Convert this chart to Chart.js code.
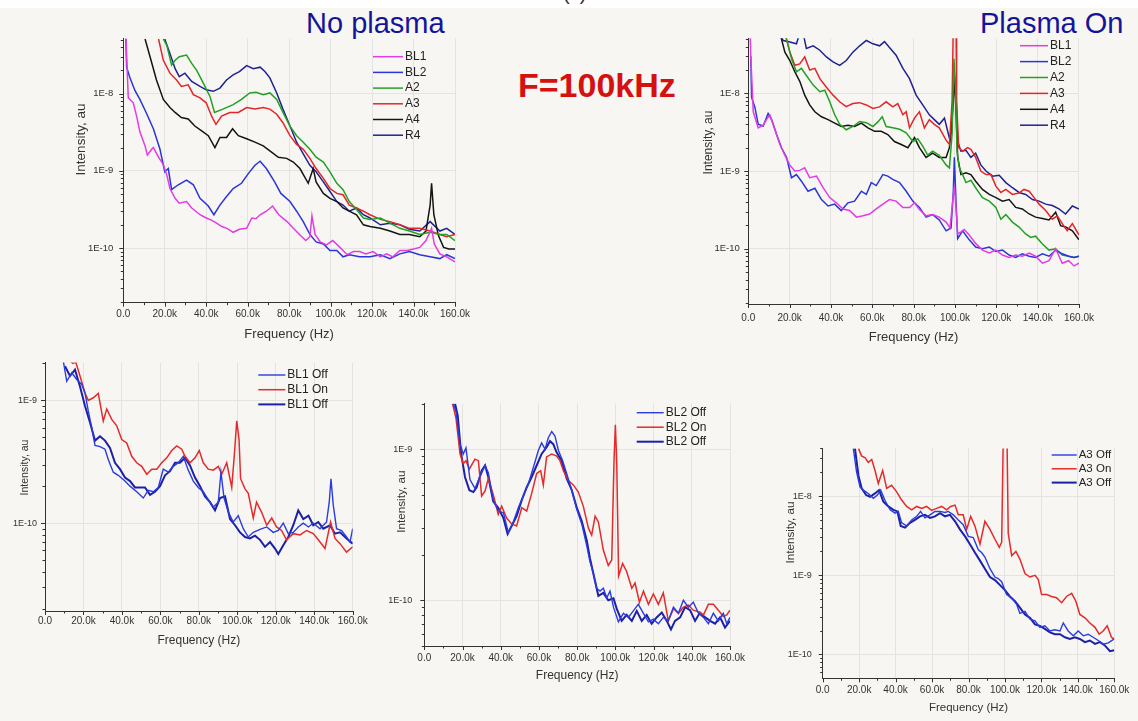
<!DOCTYPE html>
<html>
<head>
<meta charset="utf-8">
<script src="https://cdn.jsdelivr.net/npm/chart.js@4/dist/chart.umd.min.js"></script>
<style>
    body { margin: 0; width: 1138px; height: 721px; background: #f7f6f2; position: relative; overflow: hidden;
           font-family: Arial, "Liberation Sans", sans-serif; }
    canvas, .lbl { position: absolute; }
    .strip { position: absolute; left: 0; top: 0; width: 1138px; height: 8px; background: #fff; }
    .lbl { white-space: nowrap; }
</style>
</head>
<body>
<div class="strip"></div>
<div class="lbl" style="left:563px;top:-17px;font-size:20px;line-height:20px;color:#333">(c)</div>
<div class="lbl" style="left:306px;top:9px;font-size:29px;line-height:29px;color:#14149a">No plasma</div>
<div class="lbl" style="left:980px;top:9px;font-size:29px;line-height:29px;color:#14149a">Plasma On</div>
<div class="lbl" style="left:518px;top:68px;font-size:34px;line-height:34px;font-weight:bold;color:#d41010">F=100kHz</div>
<script>
// ==================== Data: [frequency kHz, intensity au] ====================

// --- No plasma ---
const noBL1 = [[1.0,8e-8],[1.3,5.1e-8],[2.4,8.8e-9],[4.8,7.6e-9],[6.5,5.0e-9],[8,3.2e-9],[10.5,2.1e-9],[11.6,1.6e-9],[13.7,1.9e-9],[14.5,2.0e-9],[17,1.5e-9],[19.3,1.2e-9],[21,8.8e-10],[22.5,5.9e-10],[25,4.4e-10],[27,3.8e-10],[30.5,4.0e-10],[33,3.3e-10],[37,2.7e-10],[40,2.45e-10],[42.5,2.3e-10],[45,2.1e-10],[47.5,1.9e-10],[50,1.8e-10],[53,1.6e-10],[56,1.75e-10],[59.5,1.8e-10],[62,2.45e-10],[64,2.4e-10],[66,2.7e-10],[69,3.0e-10],[72,3.5e-10],[75,2.7e-10],[79,2.2e-10],[82,1.8e-10],[85,1.5e-10],[88,1.25e-10],[90,1.4e-10],[91,2.6e-10],[92.5,1.5e-10],[95,1.2e-10],[98,1.1e-10],[101,1.25e-10],[104.5,1.02e-10],[108,8.2e-11],[111,9e-11],[114,9e-11],[117,8.4e-11],[120.5,9e-11],[124,7.7e-11],[127,8.4e-11],[130,7.7e-11],[133.4,9.3e-11],[137,9.3e-11],[140,9.7e-11],[143,1.02e-10],[146,1.25e-10],[148.7,1.8e-10],[150,1.13e-10],[152.7,8.4e-11],[156,7.7e-11],[160,6.6e-11]];
const noBL2 = [[1.2,6e-8],[1.6,2.2e-8],[3.2,1.6e-8],[5.6,1.1e-8],[8,8.4e-9],[11,5.7e-9],[14.5,3.5e-9],[17.7,1.9e-9],[20,9.7e-10],[21.7,1.07e-9],[23.3,5.7e-10],[26.5,6.6e-10],[30.5,7.6e-10],[33.8,6.6e-10],[37,4.4e-10],[41,3.5e-10],[43.7,2.7e-10],[46.6,3.6e-10],[49.8,4.65e-10],[53,5.9e-10],[57,6.9e-10],[60.3,9.2e-10],[63.5,1.18e-9],[66,1.33e-9],[69,1.07e-9],[73,7.2e-10],[76,5.1e-10],[80.4,4.0e-10],[83.6,3.0e-10],[86.8,2.2e-10],[90,1.5e-10],[93,1.2e-10],[96.5,1.13e-10],[99.7,9.3e-11],[103,9.3e-11],[106,7.7e-11],[109,8.2e-11],[114,7.7e-11],[119,7.7e-11],[124,8.2e-11],[128.6,7.3e-11],[133.4,8.4e-11],[138,9e-11],[143,8.2e-11],[148,7.7e-11],[152.7,7.3e-11],[156,8.2e-11],[160,7.3e-11]];
const noA2 = [[19.3,5.1e-8],[21,4.2e-8],[23.3,2.35e-8],[25,2.7e-8],[27,3.0e-8],[30.5,3.15e-8],[33,2.46e-8],[35.4,2.0e-8],[38.6,1.37e-8],[41.8,9.2e-9],[44,5.7e-9],[48,6.3e-9],[53,7.2e-9],[57,8.4e-9],[61,1.02e-8],[64,1.04e-8],[67.5,9.7e-9],[70.7,1.02e-8],[74,8.4e-9],[77,5.7e-9],[80.4,3.8e-9],[83.6,2.85e-9],[86.8,2.35e-9],[90,1.9e-9],[93,1.5e-9],[96.5,1.3e-9],[99.7,9.7e-10],[103,6.9e-10],[106,5.7e-10],[109,4.0e-10],[112.5,3.15e-10],[115.8,2.45e-10],[119,2.35e-10],[124,2.45e-10],[128.6,2.1e-10],[133.4,1.8e-10],[138,1.66e-10],[143,1.5e-10],[148,1.6e-10],[152.7,1.5e-10],[156,1.5e-10],[160,1.25e-10]];
const noA3 = [[17,5.1e-8],[19.3,2.7e-8],[22.5,1.84e-8],[25.7,1.5e-8],[28,1.24e-8],[31.3,1.3e-8],[33.8,9.7e-9],[37,8.8e-9],[40,7.6e-9],[42.6,5.1e-9],[44.7,4.0e-9],[47.4,5.1e-9],[51.4,5.7e-9],[55.5,5.7e-9],[59.5,6.6e-9],[63.5,6.3e-9],[67.5,6.6e-9],[70.7,6.3e-9],[74,5.4e-9],[77,4.2e-9],[80.4,2.85e-9],[83.6,2.2e-9],[86.8,1.9e-9],[90,1.45e-9],[93,1.07e-9],[96.5,8.0e-10],[99.7,5.9e-10],[103,5.1e-10],[106,4.9e-10],[109,3.6e-10],[112.5,3.3e-10],[115.8,3.0e-10],[119,2.7e-10],[124,2.35e-10],[128.6,2.2e-10],[133.4,2.0e-10],[138,1.8e-10],[143,1.8e-10],[148,1.66e-10],[152.7,1.5e-10],[156,1.4e-10],[160,1.5e-10]];
const noA4 = [[10.5,5.1e-8],[12.9,3.0e-8],[16,1.5e-8],[19.3,8.4e-9],[22.5,6.6e-9],[25,5.7e-9],[28,4.9e-9],[31.3,4.7e-9],[34.5,3.8e-9],[37.8,3.3e-9],[41,2.85e-9],[44.2,2.0e-9],[46.6,2.7e-9],[49.8,2.7e-9],[52.7,3.5e-9],[55.5,2.85e-9],[59.5,2.6e-9],[63.5,2.35e-9],[67.5,2.1e-9],[71.5,1.75e-9],[74.8,1.5e-9],[78.8,1.45e-9],[82,1.3e-9],[85.2,1.07e-9],[89.2,6.9e-10],[91.6,1.07e-9],[93,7.2e-10],[96.5,5.1e-10],[99.7,4.4e-10],[103,4.0e-10],[106,3.3e-10],[109,3.0e-10],[112.5,2.7e-10],[115.8,2.0e-10],[119,1.9e-10],[124,1.8e-10],[128.6,1.66e-10],[133.4,1.5e-10],[138,1.5e-10],[143,1.4e-10],[146,1.66e-10],[148,3.6e-10],[148.7,6.9e-10],[149.8,2.7e-10],[152,1.45e-10],[154.5,1.02e-10],[157,9.7e-11],[160,9.7e-11]];
const noR4 = [[20,5.1e-8],[22.5,3.3e-8],[25,2.1e-8],[27,1.66e-8],[29.7,1.84e-8],[33,1.44e-8],[37,1.24e-8],[40,1.12e-8],[43.4,1.07e-8],[46.6,1.18e-8],[49.8,1.5e-8],[53,1.75e-8],[56,1.93e-8],[59.5,2.3e-8],[62.7,2.1e-8],[66,2.2e-8],[68.3,1.93e-8],[70.7,1.6e-8],[74,1.02e-8],[77,6.3e-9],[80.4,3.8e-9],[83.6,2.35e-9],[86.8,1.66e-9],[90,1.18e-9],[93,9.7e-10],[96.5,7.2e-10],[99.7,5.4e-10],[103,4.0e-10],[106,3.6e-10],[109,3.0e-10],[112.5,3.3e-10],[115.8,2.7e-10],[119,2.45e-10],[124,2.0e-10],[128.6,2.1e-10],[133.4,2.0e-10],[138,1.75e-10],[143,1.66e-10],[148,2.2e-10],[152.7,1.66e-10],[156,1.8e-10],[160,1.5e-10]];

// --- Plasma On ---
const onBL1 = [[0.8,8e-8],[1.2,3e-8],[2.4,5.8e-9],[4.8,3.6e-9],[7.2,3.9e-9],[8.8,4.6e-9],[10.4,5.3e-9],[12.9,3.4e-9],[15.3,2.2e-9],[17.7,1.6e-9],[20,1.2e-9],[22.5,1.0e-9],[24.9,1.02e-9],[27.3,1.1e-9],[29.7,8.2e-10],[33,8.6e-10],[36.2,6.1e-10],[39.4,4.55e-10],[42.6,3.9e-10],[45.8,3.25e-10],[49,3.1e-10],[52.3,2.55e-10],[55.5,2.65e-10],[58.7,2.8e-10],[61.9,3.25e-10],[65.1,3.75e-10],[68.3,4.3e-10],[71.5,4.1e-10],[74.8,3.4e-10],[78,3.4e-10],[80.4,3.9e-10],[82.8,3.2e-10],[86,2.65e-10],[89.2,2.75e-10],[92.4,2.55e-10],[95.7,2.2e-10],[97.6,1.85e-10],[98.9,4.1e-10],[99.7,6.4e-10],[100.5,3.4e-10],[101.3,1.55e-10],[102.9,1.65e-10],[104.5,1.77e-10],[106.9,1.5e-10],[110,1.17e-10],[113.3,9.6e-11],[116.6,8.8e-11],[119.8,9.6e-11],[123,8.3e-11],[126.2,7.7e-11],[129.4,8.3e-11],[132.6,8.0e-11],[135.9,8.8e-11],[139,8.0e-11],[142.3,6.5e-11],[145.5,7.0e-11],[148.7,1.0e-10],[151.9,6.5e-11],[155,7.0e-11],[157.6,6.0e-11],[160,6.5e-11]];
const onBL2 = [[1.2,3e-8],[1.6,8.9e-9],[3.2,6.6e-9],[4.8,4.0e-9],[7.2,3.8e-9],[9.6,5.5e-9],[11.3,4.6e-9],[13.7,2.95e-9],[16.1,1.98e-9],[18.5,1.5e-9],[20.9,8.2e-10],[23.3,9.0e-10],[25.7,7.4e-10],[28.9,5.5e-10],[32.2,6.0e-10],[35.4,4.3e-10],[38.6,3.55e-10],[41.8,3.75e-10],[45,3.1e-10],[48.2,3.9e-10],[51.4,4.1e-10],[54.7,5.5e-10],[57.1,5.0e-10],[59.5,7.1e-10],[61.9,6.5e-10],[65.1,9.0e-10],[67.5,8.6e-10],[69.9,7.8e-10],[73.2,7.1e-10],[76.4,5.5e-10],[79.6,4.1e-10],[82.8,3.4e-10],[86,2.55e-10],[89.2,2.75e-10],[92.4,2.35e-10],[95.7,1.7e-10],[98.1,1.85e-10],[99.2,5.5e-10],[99.7,1.5e-9],[100.5,4.0e-10],[101.3,1.35e-10],[103.7,1.7e-10],[106.9,1.3e-10],[110,1.05e-10],[113.3,1.0e-10],[116.6,1.05e-10],[119.8,9.2e-11],[123,9.6e-11],[126.2,8.3e-11],[129.4,7.7e-11],[132.6,8.6e-11],[135.9,8.0e-11],[139,7.7e-11],[142.3,8.6e-11],[145.5,8.0e-11],[148.7,9.6e-11],[151.9,8.6e-11],[155,8.0e-11],[157.6,7.7e-11],[160,8.0e-11]];
const onA2 = [[17.5,6e-8],[18.5,5e-8],[20.9,2.8e-8],[23.3,1.9e-8],[25.7,2.1e-8],[28.1,1.7e-8],[31.4,1.28e-8],[34.6,1.05e-8],[37,1.1e-8],[39.4,7.8e-9],[41.8,5.3e-9],[44.2,4.0e-9],[47.4,3.4e-9],[50.6,3.75e-9],[53.9,4.35e-9],[57.1,4.2e-9],[60.3,3.75e-9],[62.7,4.3e-9],[64.8,5.0e-9],[66.7,3.75e-9],[69.9,3.6e-9],[73.2,3.45e-9],[76.4,3.1e-9],[79.6,2.4e-9],[82,2.6e-9],[84.4,2.1e-9],[86.8,1.6e-9],[89.2,1.8e-9],[92.4,1.6e-9],[95.7,1.2e-9],[97.3,1.1e-9],[98.6,2.95e-9],[99.5,2.8e-8],[100.2,1.2e-8],[101,1.8e-9],[102.1,1.1e-9],[103.7,9.0e-10],[105.3,7.1e-10],[107.7,7.6e-10],[110,6.1e-10],[113.3,4.55e-10],[116.6,4.1e-10],[119.8,3.4e-10],[122.2,2.4e-10],[124.6,2.75e-10],[127.8,2.2e-10],[131,1.9e-10],[134.2,1.55e-10],[136.7,1.4e-10],[139,1.45e-10],[142.3,1.15e-10],[145.5,9.6e-11],[148.7,1.0e-10],[151.9,8.3e-11],[155,8.0e-11],[157.6,7.7e-11],[160,8.0e-11]];
const onA3 = [[17.7,6e-8],[20.1,3.4e-8],[22.5,2.3e-8],[24.9,2.4e-8],[27.3,2.95e-8],[29.7,2.0e-8],[32.2,2.1e-8],[34.6,1.55e-8],[37.8,1.2e-8],[41,9.5e-9],[44.2,7.8e-9],[47.4,6.75e-9],[50.6,7.4e-9],[53.9,7.6e-9],[57.1,7.1e-9],[60.3,6.4e-9],[63.5,6.7e-9],[66.7,7.8e-9],[69.9,6.7e-9],[72.3,7.4e-9],[74.8,5.3e-9],[76.4,5.8e-9],[78,3.6e-9],[80.4,4.8e-9],[82.8,5.8e-9],[85.2,3.6e-9],[87.6,4.6e-9],[90,4.0e-9],[92.4,3.6e-9],[95.7,2.5e-9],[97.3,2.2e-9],[98.6,7.8e-9],[99.2,8e-8],[100.5,8e-8],[100.8,7.8e-9],[101.8,2.0e-9],[103.7,1.8e-9],[106.1,2.0e-9],[107.7,1.9e-9],[110,1.5e-9],[112.5,1.0e-9],[115,9.0e-10],[117.4,9.0e-10],[119.8,6.4e-10],[122.2,5.3e-10],[124.6,5.8e-10],[127.8,5.0e-10],[131,5.2e-10],[133.4,5.8e-10],[135.9,5.5e-10],[138.3,4.55e-10],[140.7,3.75e-10],[143.9,3.1e-10],[147.1,2.4e-10],[149.5,2.65e-10],[151.9,2.1e-10],[154.3,1.7e-10],[156.8,2.1e-10],[160,1.5e-10]];
const onA4 = [[15.3,6e-8],[17.7,3.4e-8],[20.1,2.65e-8],[22.5,1.9e-8],[24.9,1.43e-8],[27.3,9.5e-9],[29.7,7.1e-9],[32.2,5.8e-9],[35.4,5.0e-9],[38.6,4.6e-9],[41.8,4.15e-9],[45,3.75e-9],[48.2,3.9e-9],[51.4,3.75e-9],[54.7,4.15e-9],[57.9,3.6e-9],[61.1,3.25e-9],[64.3,3.25e-9],[67.5,2.95e-9],[70.7,2.4e-9],[74,2.2e-9],[77.2,2.0e-9],[80.4,2.7e-9],[82.8,2.0e-9],[86,1.5e-9],[89.2,1.7e-9],[92.4,1.5e-9],[95.7,1.5e-9],[97.3,2.0e-9],[98.4,3.6e-9],[99.7,1.55e-8],[100.5,6e-9],[101.3,1.5e-9],[102.9,9.0e-10],[105.3,9.5e-10],[107.7,9.0e-10],[110,7.4e-10],[113.3,5.8e-10],[116.6,5.0e-10],[119.8,4.55e-10],[123,4.1e-10],[126.2,4.3e-10],[129.4,3.4e-10],[132.6,3.25e-10],[135.9,2.8e-10],[139,2.55e-10],[142.3,2.45e-10],[145.5,2.35e-10],[148.7,2.95e-10],[151.1,1.98e-10],[153.5,1.9e-10],[156.8,1.7e-10],[160,1.3e-10]];
const onR4 = [[15,6e-8],[16.9,4.8e-8],[20.1,4.6e-8],[23.3,4.35e-8],[24.9,6e-8],[26.5,6e-8],[28.1,3.8e-8],[31.4,4.1e-8],[34.6,3.6e-8],[37.8,2.95e-8],[41,2.55e-8],[44.2,2.3e-8],[47.4,2.65e-8],[50.6,3.4e-8],[53.9,4.1e-8],[57.1,4.8e-8],[60.3,4.35e-8],[63.5,4.1e-8],[65.9,4.65e-8],[68.3,3.9e-8],[71.5,3.1e-8],[74.8,2.1e-8],[78,1.55e-8],[81.2,9.5e-9],[84.4,7.1e-9],[87.6,5.3e-9],[90,4.6e-9],[92.4,4.0e-9],[94.9,4.8e-9],[97.3,2.65e-9],[98.4,3.2e-9],[99.5,2.1e-8],[100.5,1.0e-8],[101.3,2.4e-9],[102.9,1.8e-9],[105.3,1.85e-9],[107.7,1.5e-9],[110,1.7e-9],[112.5,1.2e-9],[115,1.0e-9],[118.2,8.6e-10],[121.4,8.8e-10],[124.6,7.1e-10],[127.8,6.1e-10],[131,5.3e-10],[134.2,5.0e-10],[137.5,4.3e-10],[140.7,4.1e-10],[143.9,3.75e-10],[147.1,3.6e-10],[150.3,3.25e-10],[153.5,2.8e-10],[156.8,3.55e-10],[160,3.25e-10]];

// --- BL1 off / on / off ---
const bl1Off1 = [[9.5,2.1e-9],[11.3,1.43e-9],[13.9,1.68e-9],[16.5,1.48e-9],[19.1,1.35e-9],[20.8,1.15e-9],[22.5,8.2e-10],[24.3,6.0e-10],[26,4.3e-10],[28.6,4.2e-10],[31.2,4.0e-10],[32.9,3.3e-10],[35.5,2.6e-10],[38.1,2.45e-10],[41.6,2.2e-10],[44.2,2.0e-10],[47.7,1.8e-10],[51.1,1.6e-10],[53.7,1.85e-10],[56.3,1.8e-10],[58.9,1.95e-10],[61.5,2.75e-10],[64.1,2.6e-10],[66.7,2.9e-10],[69.3,3.1e-10],[71.9,3.5e-10],[74.5,2.7e-10],[77.1,2.2e-10],[79.7,1.95e-10],[82.3,1.8e-10],[84.9,1.55e-10],[87.5,1.35e-10],[90.1,1.48e-10],[91.5,2.6e-10],[93.1,1.6e-10],[95.3,1.23e-10],[97.9,1.02e-10],[100.5,1.15e-10],[103.1,9.0e-11],[105.7,7.7e-11],[108.3,8.4e-11],[111.8,8.9e-11],[115.3,9.3e-11],[118.7,8.4e-11],[121.3,8.7e-11],[123.9,1.0e-10],[126.5,8.2e-11],[129.1,8.4e-11],[131.7,9.3e-11],[134.3,1.0e-10],[137,9.3e-11],[139.5,1.0e-10],[143,9.0e-11],[146.4,1.02e-10],[147.8,1.48e-10],[148.7,2.3e-10],[149.9,1.4e-10],[151.6,9.0e-11],[154.2,8.7e-11],[156.8,7.7e-11],[158.6,7.0e-11],[160,9.0e-11]];
const bl1On = [[13,2.1e-9],[14.5,2.0e-9],[16,2.05e-9],[18.2,1.58e-9],[20.8,1.15e-9],[22.5,1.0e-9],[25.1,1.05e-9],[27.7,1.14e-9],[30.3,6.8e-10],[32.1,8.5e-10],[34.7,7.0e-10],[37.3,6.2e-10],[39.9,4.8e-10],[42.5,4.5e-10],[45.1,3.5e-10],[47.7,3.1e-10],[50.3,2.9e-10],[52.9,2.5e-10],[55.5,2.75e-10],[58.1,2.75e-10],[60.7,3.1e-10],[63.3,3.4e-10],[65.9,3.9e-10],[68.5,4.25e-10],[71.1,4.0e-10],[72.8,3.5e-10],[75.4,3.1e-10],[78,3.4e-10],[80.2,3.9e-10],[82.3,3.1e-10],[84.9,2.75e-10],[87.5,2.7e-10],[90.1,2.9e-10],[91.9,2.5e-10],[94.5,3.1e-10],[97.1,1.95e-10],[98.4,3.5e-10],[99.7,6.8e-10],[100.9,4.8e-10],[101.7,2.3e-10],[104,1.9e-10],[105.7,1.75e-10],[108.3,1.1e-10],[110,1.48e-10],[112.6,1.23e-10],[115.3,9.6e-11],[117.9,1.1e-10],[120.4,9.3e-11],[123,8.7e-11],[125.6,7.3e-11],[129.1,8.2e-11],[132.6,8.0e-11],[136,8.7e-11],[139.5,8.2e-11],[142.1,7.3e-11],[145.6,6.2e-11],[148.5,1.02e-10],[150.8,7.5e-11],[153.4,6.8e-11],[156.8,5.8e-11],[160,6.4e-11]];
const bl1Off2 = [[10.4,1.9e-9],[13,1.58e-9],[15.6,1.78e-9],[18.2,1.3e-9],[20.8,9.0e-10],[23.4,6.6e-10],[26,4.7e-10],[28.6,5.1e-10],[31.2,4.7e-10],[33.8,4.1e-10],[36.4,3.1e-10],[39,2.75e-10],[41.6,2.35e-10],[44.2,2.2e-10],[46.8,1.95e-10],[49.4,1.95e-10],[52,1.95e-10],[54.6,1.7e-10],[57.2,1.8e-10],[59.8,2.0e-10],[62.4,2.45e-10],[65,2.65e-10],[67.6,3.1e-10],[70.2,3.1e-10],[72.8,3.4e-10],[75.4,2.95e-10],[78,2.35e-10],[80.6,2.0e-10],[83.2,1.65e-10],[85.8,1.48e-10],[88.4,1.27e-10],[91,1.6e-10],[93.6,1.65e-10],[96.2,1.08e-10],[98.8,9.6e-11],[101.4,8.4e-11],[104,7.7e-11],[106.6,7.5e-11],[109.2,7.9e-11],[111.8,7.3e-11],[114.4,6.4e-11],[117,7.0e-11],[119.6,6.2e-11],[121.3,5.6e-11],[123.9,6.6e-11],[126.5,7.7e-11],[129.1,9.6e-11],[131.7,1.27e-10],[134.3,1.08e-10],[137,1.15e-10],[139.5,9.6e-11],[142.1,1.02e-10],[144.7,9.0e-11],[148.2,9.6e-11],[150.8,8.2e-11],[153.4,8.4e-11],[156.8,7.5e-11],[160,6.8e-11]];

// --- BL2 off / on / off ---
const bl2Off1 = [[15.2,2.0e-9],[16.6,1.77e-9],[18.7,1.08e-9],[20.4,9.3e-10],[21.8,1.02e-9],[23.9,6.3e-10],[26.5,5.5e-10],[29.1,6.55e-10],[31.8,7.8e-10],[33.5,7.0e-10],[36.1,4.6e-10],[38.7,3.9e-10],[41.4,3.8e-10],[44,2.8e-10],[46.6,3.3e-10],[49.2,4.1e-10],[51.8,4.9e-10],[54.5,5.9e-10],[57.1,7.6e-10],[59.7,9.8e-10],[61.4,1.1e-9],[63.2,1.0e-9],[64.9,1.19e-9],[66.7,1.31e-9],[68.4,1.22e-9],[70.2,9.8e-10],[72.4,8.4e-10],[74.5,6.9e-10],[77.1,5.4e-10],[79.8,4.0e-10],[82.4,3.2e-10],[85,2.3e-10],[86.7,1.8e-10],[88.5,1.5e-10],[90.2,1.2e-10],[92,1.15e-10],[93.7,1.2e-10],[95.5,1.04e-10],[97.2,1.15e-10],[99,9.0e-11],[101.6,7.2e-11],[104.2,8.2e-11],[106.8,7.7e-11],[109.4,8.5e-11],[112,9.4e-11],[114.7,8.2e-11],[117.3,7.2e-11],[119.9,7.5e-11],[122.5,7.0e-11],[125.1,7.7e-11],[127.7,7.3e-11],[130.4,9.0e-11],[133,8.2e-11],[135.6,1.0e-10],[138.2,9.0e-11],[140.8,9.7e-11],[143.5,8.2e-11],[146.1,7.7e-11],[148.7,7.0e-11],[151.3,8.2e-11],[153.9,7.3e-11],[156.5,8.2e-11],[158.3,7.0e-11],[160,7.7e-11]];
const bl2On = [[14.8,2.0e-9],[16.6,1.6e-9],[18.7,9.3e-10],[20.4,8.0e-10],[21.8,8.4e-10],[23.6,7.4e-10],[26.5,8.6e-10],[28.3,8.4e-10],[30,4.9e-10],[31.8,5.3e-10],[33.5,6.4e-10],[36.1,5.0e-10],[38.7,3.7e-10],[40.5,4.2e-10],[43.1,3.5e-10],[45.7,3.2e-10],[48.3,3.1e-10],[51,4.1e-10],[53.6,3.9e-10],[56.2,5.1e-10],[58.8,6.9e-10],[60.9,7.2e-10],[62.3,5.8e-10],[64,8.9e-10],[66.7,9.3e-10],[69.3,9.0e-10],[71,8.4e-10],[72.8,7.2e-10],[75.4,6.2e-10],[78,5.8e-10],[80.6,5.2e-10],[83.2,4.2e-10],[85.9,3.0e-10],[87.6,2.7e-10],[89.4,3.6e-10],[91.1,3.3e-10],[93.7,2.15e-10],[96.3,1.7e-10],[98.1,1.85e-10],[99.3,8.4e-10],[100,1.45e-9],[100.7,8.4e-10],[101.7,1.45e-10],[103.8,1.75e-10],[105.9,1.55e-10],[108.6,1.2e-10],[110.3,1.3e-10],[112.6,9.7e-11],[114.7,1.15e-10],[117.3,9.4e-11],[119.9,1.1e-10],[122.5,9.4e-11],[125.1,1.12e-10],[127.7,7.3e-11],[130.4,8.8e-11],[133,8.2e-11],[135.6,9.0e-11],[138.2,9.3e-11],[140.8,8.6e-11],[143.5,8.4e-11],[146.1,8.0e-11],[148.7,9.4e-11],[151.3,9.4e-11],[153.9,8.6e-11],[156.5,7.8e-11],[158.3,8.0e-11],[160,8.6e-11]];
const bl2Off2 = [[16.1,2.0e-9],[17.5,1.67e-9],[19.2,9.5e-10],[21.3,6.55e-10],[23.6,5.35e-10],[25.7,5.2e-10],[27.4,5.6e-10],[30,7.2e-10],[31.8,7.8e-10],[33.5,6.55e-10],[36.1,4.5e-10],[38.7,4.1e-10],[41.4,3.5e-10],[43.6,2.75e-10],[45.7,3.1e-10],[48.3,3.6e-10],[51,4.6e-10],[53.6,5.6e-10],[56.2,6.55e-10],[58.8,7.8e-10],[61.4,9.3e-10],[64,1.03e-9],[65.8,1.13e-9],[67.5,1.08e-9],[69.3,9.5e-10],[71.9,8.4e-10],[74.5,6.4e-10],[77.1,5.4e-10],[79.8,4.1e-10],[82.4,3.35e-10],[85,2.5e-10],[86.7,1.9e-10],[88.5,1.5e-10],[91.1,1.07e-10],[93.7,1.12e-10],[96.3,1.0e-10],[99,1.03e-10],[100.7,8.8e-11],[103.3,7.3e-11],[105.9,8.0e-11],[108.6,7.3e-11],[111.2,8.5e-11],[113.8,7.3e-11],[116.4,8.0e-11],[119,7.0e-11],[121.6,7.7e-11],[124.3,8.3e-11],[126.9,7.3e-11],[129.1,6.4e-11],[131.2,7.3e-11],[133.9,7.7e-11],[136.5,9.0e-11],[139.1,8.6e-11],[141.7,7.3e-11],[144.3,8.3e-11],[147,7.7e-11],[149.6,7.3e-11],[152.2,7.0e-11],[154.8,7.7e-11],[157.4,6.6e-11],[160,7.3e-11]];

// --- A3 off / on / off ---
const a3Off1 = [[16.8,4.0e-8],[18.6,2.0e-8],[20.5,1.3e-8],[22.3,1.19e-8],[25,1.08e-8],[27.8,9.4e-9],[30,1.03e-8],[31.8,1.19e-8],[34.2,8.8e-9],[37,6.7e-9],[39.7,6.1e-9],[41.5,6.4e-9],[43.3,4.6e-9],[46.1,4.2e-9],[48.8,5.0e-9],[51.6,5.55e-9],[53.7,6.4e-9],[56.1,5.3e-9],[58.9,5.8e-9],[61.6,6.4e-9],[64.4,6.4e-9],[67.1,6.2e-9],[68.9,6.4e-9],[71.7,5.8e-9],[74.4,5.0e-9],[77.1,4.35e-9],[79.9,3.1e-9],[82.6,3.0e-9],[85.4,2.1e-9],[87.2,1.94e-9],[89,1.7e-9],[91.8,1.21e-9],[94.5,9.5e-10],[96.3,9.1e-10],[98.2,8.3e-10],[100.9,5.7e-10],[103.7,5.2e-10],[106.4,4.3e-10],[108.2,3.3e-10],[111,3.5e-10],[113.7,2.8e-10],[116.5,2.65e-10],[119.2,2.2e-10],[121.9,2.3e-10],[124.7,1.98e-10],[127.4,2.05e-10],[130.2,1.98e-10],[132,2.5e-10],[134.7,1.98e-10],[137.5,1.72e-10],[140.2,1.98e-10],[143,1.72e-10],[145.7,1.8e-10],[148.4,1.65e-10],[151.2,1.5e-10],[153.9,1.35e-10],[156.7,1.4e-10],[160,1.57e-10]];
const a3On = [[19.6,4.0e-8],[21.4,3.2e-8],[23.2,3.07e-8],[25,2.66e-8],[26.9,2.9e-8],[28.7,2.1e-8],[30.5,1.44e-8],[32.9,2.1e-8],[35.1,1.25e-8],[37.8,1.37e-8],[40.6,1.13e-8],[43.3,8.9e-9],[46.1,7.4e-9],[48.8,6.7e-9],[51.6,7.4e-9],[54.3,7.0e-9],[57,7.4e-9],[59.8,6.6e-9],[62.5,7.0e-9],[65.3,7.4e-9],[68,6.7e-9],[70.2,7.4e-9],[72.6,7.7e-9],[74.4,5.8e-9],[77.1,5.8e-9],[79,3.8e-9],[81.2,5.55e-9],[83.5,4.2e-9],[86.3,2.47e-9],[89,4.8e-9],[91.8,3.8e-9],[94.5,2.85e-9],[96.9,2.25e-9],[98.2,2.6e-9],[99.1,6e-8],[101.1,6e-8],[101.8,3.4e-9],[103.7,1.77e-9],[106,2.0e-9],[108.2,1.6e-9],[111,1.05e-9],[113.7,9.5e-10],[116.5,1.0e-9],[118.3,8.8e-10],[120.1,5.7e-10],[122.9,5.7e-10],[125.6,5.4e-10],[128.3,5.2e-10],[131.1,4.5e-10],[133.8,5.4e-10],[136.6,5.9e-10],[138.9,4.7e-10],[141.1,3.2e-10],[143.9,2.9e-10],[146.6,2.5e-10],[149.4,2.2e-10],[151.7,1.8e-10],[153.9,1.98e-10],[156.1,2.3e-10],[158.5,1.64e-10],[160,1.57e-10]];
const a3Off2 = [[17.7,4.0e-8],[19.6,1.82e-8],[21.4,1.25e-8],[23.8,1.03e-8],[26,9.8e-9],[28.7,1.08e-8],[30.9,1.19e-8],[33.3,8.5e-9],[36,7.4e-9],[38.8,6.7e-9],[41,6.4e-9],[42.8,4.2e-9],[45.2,4.0e-9],[47.9,4.6e-9],[50.6,5.0e-9],[53.4,5.55e-9],[56.1,5.8e-9],[58.9,5.3e-9],[61.6,5.55e-9],[64.4,6.1e-9],[67.1,5.55e-9],[69.8,5.8e-9],[72.6,4.8e-9],[75.3,3.8e-9],[78.1,3.1e-9],[80.8,2.47e-9],[83.5,1.94e-9],[86.3,1.53e-9],[89,1.21e-9],[91.8,9.5e-10],[94.5,8.7e-10],[97.3,7.5e-10],[100,6.5e-10],[102.7,5.4e-10],[105.5,4.7e-10],[108.2,3.9e-10],[111,3.2e-10],[113.7,2.9e-10],[116.5,2.4e-10],[119.2,2.3e-10],[121.9,2.1e-10],[124.7,1.9e-10],[127.4,1.8e-10],[130.2,1.8e-10],[132.9,1.65e-10],[135.6,1.57e-10],[138.4,1.65e-10],[141.1,1.57e-10],[143.9,1.43e-10],[146.6,1.5e-10],[149.4,1.36e-10],[152.1,1.43e-10],[154.8,1.3e-10],[157.6,1.1e-10],[160,1.13e-10]];

// ==================== Styles ====================
const C_BL1 = '#e33ce3', C_BL2 = '#2a36d8', C_A2 = '#24a024', C_A3 = '#e3262a', C_A4 = '#141414', C_R4 = '#1e2390';
const C_OFF1 = '#2a3ce0', C_ON = '#e42a2a', C_OFF2 = '#1c20a6';

const FREQ_LABEL = v => v === 0 ? '0.0' : (v % 20 === 0 ? v.toFixed(1) + 'k' : '');
const isDecade = v => Math.abs(Math.log10(v) - Math.round(Math.log10(v))) < 1e-6;

const PANELS = [
    { left: 74, top: 23, w: 403, h: 319, padTop: 12, padRight: 22, yW: 49.3, xH: 39.3, yMin: 1.96e-11, yMax: 5.14e-8,
      xTickPad: 6, yTickPad: 10, yTick: 9.5, xTitle: 13,
      yTitle: { x: 81.7, y: 139.5, size: 13.5 },
      legend: { x: 373, y: 56.7, dy: 15.7, len: 30, size: 12 },
      series: [['BL1', noBL1, C_BL1, 1.5], ['BL2', noBL2, C_BL2, 1.5], ['A2', noA2, C_A2, 1.5],
               ['A3', noA3, C_A3, 1.5], ['A4', noA4, C_A4, 1.5], ['R4', noR4, C_R4, 1.5]] },
    { left: 700, top: 24, w: 402, h: 321, padTop: 12, padRight: 22, yW: 48.3, xH: 41, yMin: 1.94e-11, yMax: 5.14e-8,
      xTickPad: 8, yTickPad: 8.5, yTick: 9.5, xTitle: 13,
      yTitle: { x: 709, y: 142.5, size: 12 },
      legend: { x: 1020, y: 45.7, dy: 15.9, len: 28, size: 12 },
      series: [['BL1', onBL1, C_BL1, 1.5], ['BL2', onBL2, C_BL2, 1.5], ['A2', onA2, C_A2, 1.5],
               ['A3', onA3, C_A3, 1.5], ['A4', onA4, C_A4, 1.5], ['R4', onR4, C_R4, 1.5]] },
    { left: 0, top: 349, w: 375, h: 299, padTop: 12, padRight: 22.3, yW: 45, xH: 37, yMin: 1.92e-11, yMax: 2.04e-9,
      xTickPad: 4.7, yTickPad: 8, yTick: 9, xTitle: 12,
      yTitle: { x: 25, y: 467.5, size: 10.5 },
      legend: { x: 258.3, y: 375, dy: 14.7, len: 27, size: 12 },
      series: [['BL1 Off', bl1Off1, C_OFF1, 1.4], ['BL1 On', bl1On, C_ON, 1.5], ['BL1 Off', bl1Off2, C_OFF2, 2]] },
    { left: 379, top: 386, w: 373, h: 297, padTop: 12.3, padRight: 22, yW: 45.3, xH: 37, yMin: 4.98e-11, yMax: 2.01e-9,
      xTickPad: 6, yTickPad: 12, yTick: 9, xTitle: 12,
      yTitle: { x: 401.7, y: 501.7, size: 11.7 },
      legend: { x: 636.7, y: 412.7, dy: 14.5, len: 27, size: 12 },
      series: [['BL2 Off', bl2Off1, C_OFF1, 1.4], ['BL2 On', bl2On, C_ON, 1.5], ['BL2 Off', bl2Off2, C_OFF2, 2]] },
    { left: 778, top: 432, w: 358, h: 283, padTop: 12, padRight: 21.7, yW: 44.7, xH: 36.7, yMin: 5.0e-11, yMax: 4.0e-8,
      xTickPad: 6.4, yTickPad: 11, yTick: 9, xTitle: 11.5,
      yTitle: { x: 790.7, y: 532.5, size: 11.7 },
      legend: { x: 1051.7, y: 455, dy: 13.8, len: 25, size: 11.5 },
      series: [['A3 Off', a3Off1, C_OFF1, 1.4], ['A3 On', a3On, C_ON, 1.5], ['A3 Off', a3Off2, C_OFF2, 2]] }
];

// ==================== Plugins ====================
const tickMarks = {
    id: 'tickMarks',
    afterDraw(chart) {
        const { ctx, chartArea: a, scales: { x, y } } = chart;
        ctx.save();
        ctx.strokeStyle = '#333';
        ctx.lineWidth = 1;
        ctx.beginPath();
        for (let f = 0; f <= 160; f += 10) {
            const px = Math.round(x.getPixelForValue(f)) + 0.5;
            ctx.moveTo(px, a.bottom);
            ctx.lineTo(px, a.bottom + (f % 20 === 0 ? 4 : 2.5));
        }
        const e0 = Math.floor(Math.log10(y.min)), e1 = Math.ceil(Math.log10(y.max));
        for (let e = e0; e <= e1; e++) {
            for (let k = 1; k <= 9; k++) {
                const v = k * Math.pow(10, e);
                if (v < y.min || v > y.max) continue;
                const py = Math.round(y.getPixelForValue(v)) + 0.5;
                ctx.moveTo(a.left, py);
                ctx.lineTo(a.left - (k === 1 ? 4 : 2.5), py);
            }
        }
        ctx.stroke();
        ctx.restore();
    }
};

// legend drawn inside the plot, plus the rotated y-axis title at its own spot
const inLegend = {
    id: 'inLegend',
    afterDraw(chart, args, opts) {
        const { ctx } = chart;
        ctx.save();
        ctx.font = `${opts.size}px Arial, "Liberation Sans", sans-serif`;
        ctx.textBaseline = 'middle';
        ctx.fillStyle = '#222';
        chart.data.datasets.forEach((ds, i) => {
            const ly = opts.y + i * opts.dy;
            ctx.strokeStyle = ds.borderColor;
            ctx.lineWidth = ds.borderWidth;
            ctx.beginPath();
            ctx.moveTo(opts.x, ly);
            ctx.lineTo(opts.x + opts.len, ly);
            ctx.stroke();
            ctx.fillText(ds.label, opts.x + opts.len + 2, ly);
        });
        const t = opts.yTitle;
        ctx.translate(t.x, t.y);
        ctx.rotate(-Math.PI / 2);
        ctx.font = `${t.size}px Arial, "Liberation Sans", sans-serif`;
        ctx.textAlign = 'center';
        ctx.fillStyle = '#333';
        ctx.fillText('Intensity, au', 0, 0);
        ctx.restore();
    }
};

// ==================== Charts ====================
function buildPanel(p) {
    const cv = document.createElement('canvas');
    cv.width = p.w; cv.height = p.h;
    cv.style.left = p.left + 'px';
    cv.style.top = p.top + 'px';
    cv.style.width = p.w + 'px';
    cv.style.height = p.h + 'px';
    document.body.appendChild(cv);

    return new Chart(cv, {
        type: 'line',
        data: {
            datasets: p.series.map(([label, pts, color, width]) => ({
                label,
                data: pts.map(([x, y]) => ({ x, y })),
                borderColor: color,
                borderWidth: width,
                pointRadius: 0,
                tension: 0,
                fill: false
            }))
        },
        options: {
            responsive: false, animation: false, devicePixelRatio: 1,
            layout: { padding: { top: p.padTop, right: p.padRight, left: 0, bottom: 0 } },
            plugins: {
                legend: { display: false },
                tooltip: { enabled: false },
                inLegend: {
                    x: p.legend.x - p.left, y: p.legend.y - p.top, dy: p.legend.dy, len: p.legend.len, size: p.legend.size,
                    yTitle: { x: p.yTitle.x - p.left, y: p.yTitle.y - p.top, size: p.yTitle.size }
                }
            },
            scales: {
                x: {
                    type: 'linear', min: 0, max: 160,
                    afterFit: s => { s.height = p.xH; },
                    ticks: { stepSize: 10, autoSkip: false, maxRotation: 0, padding: p.xTickPad, color: '#333',
                             font: { size: 10 }, callback: FREQ_LABEL },
                    grid: { drawTicks: false, color: c => (c.tick && c.tick.value % 20 === 0 && c.tick.value > 0) ? '#e3e3e1' : 'rgba(0,0,0,0)' },
                    border: { color: '#333', width: 1 },
                    title: { display: true, text: 'Frequency (Hz)', color: '#333', font: { size: p.xTitle }, padding: 0 }
                },
                y: {
                    type: 'logarithmic', min: p.yMin, max: p.yMax,
                    afterFit: s => { s.width = p.yW; },
                    ticks: { autoSkip: false, padding: p.yTickPad, color: '#333', font: { size: p.yTick },
                             callback: v => isDecade(v) ? '1E' + Math.round(Math.log10(v)) : '' },
                    grid: { drawTicks: false, color: c => (c.tick && isDecade(c.tick.value)) ? '#e3e3e1' : 'rgba(0,0,0,0)' },
                    border: { color: '#333', width: 1 },
                    title: { display: false }
                }
            }
        },
        plugins: [tickMarks, inLegend]
    });
}

PANELS.forEach(buildPanel);
</script>
</body>
</html>
